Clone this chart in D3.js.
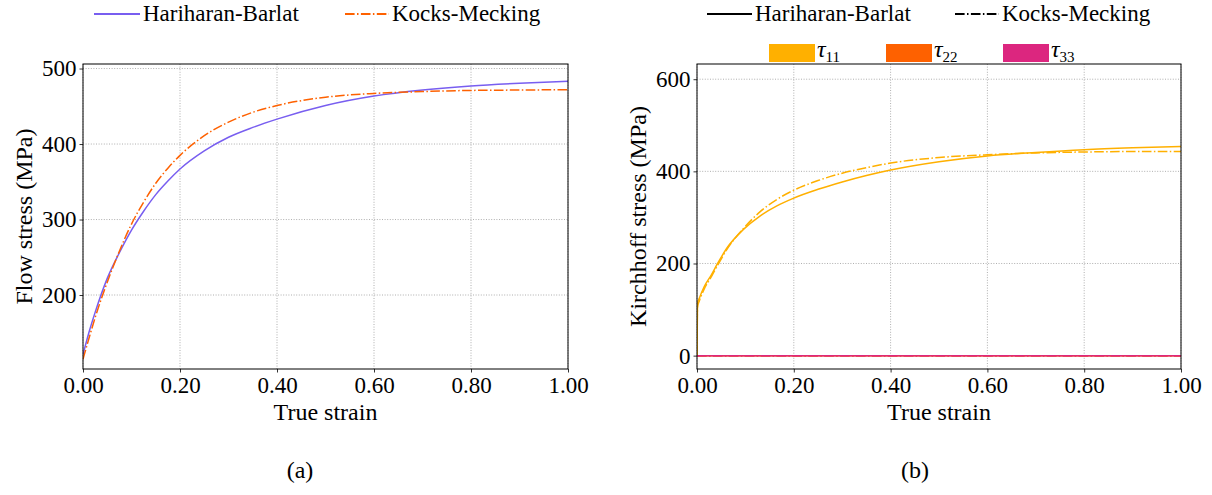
<!DOCTYPE html>
<html><head><meta charset="utf-8">
<script src="https://cdn.jsdelivr.net/npm/d3@7"></script>
<style>
body{margin:0;background:#fff;}
</style></head>
<body><svg id="c" width="1212" height="495"></svg>
<script>
// ---- Data ----
const strainA = [0, 0.0125, 0.025, 0.05, 0.075, 0.1, 0.125, 0.15, 0.175, 0.2, 0.25, 0.3, 0.35, 0.4, 0.5, 0.6, 0.7, 0.8, 0.9, 1.0];
const hbFlow  = [121, 151, 177, 222, 256, 286, 311, 333, 351, 367, 391, 409, 422, 433, 451, 463.5, 471.5, 477, 480.5, 483];
const kmFlow  = [115, 143, 170, 217, 258, 294, 323, 348, 368, 385, 411, 429, 442, 451, 462, 467, 469.5, 471, 471.5, 472];

const strainB = [0, 0.001, 0.005, 0.015, 0.03, 0.042, 0.0615, 0.096, 0.13, 0.165, 0.2, 0.25, 0.3, 0.35, 0.4, 0.5, 0.6, 0.7, 0.8, 0.9, 1.0];
const hbTau11 = [0, 112, 125, 150, 176, 199, 233, 274, 303, 325, 342, 361, 377, 391, 403, 421, 433.5, 441, 447, 451, 454];
const kmTau11 = [0, 105, 119, 145, 172, 195, 230, 276, 312, 339, 359, 380, 396, 408, 418, 430, 436, 440, 442, 443, 443];
const hbTau22 = strainB.map(() => 0);
const kmTau22 = strainB.map(() => 0);
const hbTau33 = strainB.map(() => 0);
const kmTau33 = strainB.map(() => 0);

const xTicks = [0, 0.2, 0.4, 0.6, 0.8, 1.0];
const yTicksA = [200, 300, 400, 500];
const yTicksB = [0, 200, 400, 600];

const C = {hb:"#785EF0", km:"#FE6100", t11:"#FFB000", t22:"#FE6100", t33:"#DC267F"};
const DASHDOT = "9.6,2.4,1.5,2.4";
const FF = "'Liberation Serif','DejaVu Serif','Times New Roman',Times,serif";

const svg = d3.select("#c");
const FS = 24;

function txt(sel){ return sel.attr("font-family", FF).attr("fill","#000"); }

function panel(cfg){
  const g = svg.append("g");
  const x = d3.scaleLinear().domain([0,1]).range([cfg.x0, cfg.x1]);
  const y = d3.scaleLinear().domain(cfg.ydom).range([cfg.y1, cfg.y0]);
  // grid
  g.append("g").selectAll("line").data(xTicks).join("line")
    .attr("x1", d=>x(d)).attr("x2", d=>x(d)).attr("y1", cfg.y0).attr("y2", cfg.y1)
    .attr("stroke","#9a9a9a").attr("stroke-width",0.8).attr("stroke-dasharray","1,1.6");
  g.append("g").selectAll("line").data(cfg.yTicks).join("line")
    .attr("y1", d=>y(d)).attr("y2", d=>y(d)).attr("x1", cfg.x0).attr("x2", cfg.x1)
    .attr("stroke","#9a9a9a").attr("stroke-width",0.8).attr("stroke-dasharray","1,1.6");
  // clip
  const cid = "clip"+cfg.id;
  svg.append("defs").append("clipPath").attr("id",cid).append("rect")
    .attr("x",cfg.x0).attr("y",cfg.y0).attr("width",cfg.x1-cfg.x0).attr("height",cfg.y1-cfg.y0);
  const lg = g.append("g").attr("clip-path",`url(#${cid})`);
  cfg.series.forEach(s=>{
    const line = d3.line().x((d,i)=>x(s.xs[i])).y(d=>y(d)).curve(d3.curveMonotoneX);
    lg.append("path").datum(s.ys).attr("d",line).attr("fill","none")
      .attr("stroke",s.color).attr("stroke-width",1.5)
      .attr("stroke-dasharray", s.dash ? DASHDOT : null);
  });
  // axes
  const xa = d3.axisBottom(x).tickValues(xTicks).tickFormat(d3.format(".2f")).tickSize(3.5).tickPadding(4);
  const ya = d3.axisLeft(y).tickValues(cfg.yTicks).tickFormat(d3.format("d")).tickSize(3.5).tickPadding(3);
  const gx = g.append("g").attr("transform",`translate(0,${cfg.y1})`).call(xa);
  const gy = g.append("g").attr("transform",`translate(${cfg.x0},0)`).call(ya);
  [gx,gy].forEach(a=>{
    a.attr("font-family", FF).attr("font-size", FS);
    a.select(".domain").remove();
    a.selectAll("line").attr("stroke","#000").attr("stroke-width",0.8);
    txt(a.selectAll("text")).attr("font-size",FS-1);
  });
  g.append("rect").attr("x",cfg.x0).attr("y",cfg.y0).attr("width",cfg.x1-cfg.x0).attr("height",cfg.y1-cfg.y0)
    .attr("fill","none").attr("stroke","#000").attr("stroke-width",1);
  // labels
  txt(g.append("text")).attr("x",(cfg.x0+cfg.x1)/2).attr("y",420).attr("text-anchor","middle")
    .attr("font-size",FS).text("True strain");
  txt(g.append("text")).attr("transform",`translate(${cfg.ylx},${(cfg.y0+cfg.y1)/2}) rotate(-90)`)
    .attr("text-anchor","middle").attr("font-size",FS).text(cfg.ylabel);
  txt(g.append("text")).attr("x",cfg.capx).attr("y",478).attr("text-anchor","middle")
    .attr("font-size",FS).text(cfg.cap);
  return {x,y};
}

panel({id:"a", x0:83, x1:568, y0:64, y1:369, ydom:[102,506], yTicks:yTicksA,
  ylabel:"Flow stress (MPa)", ylx:32, cap:"(a)", capx:300,
  series:[
    {xs:strainA, ys:hbFlow, color:C.hb},
    {xs:strainA, ys:kmFlow, color:C.km, dash:true}
  ]});

panel({id:"b", x0:697, x1:1181, y0:64, y1:369, ydom:[-29,633], yTicks:yTicksB,
  ylabel:"Kirchhoff stress (MPa)", ylx:646, cap:"(b)", capx:915,
  series:[
    {xs:strainB, ys:hbTau11, color:C.t11},
    {xs:strainB, ys:hbTau22, color:C.t22},
    {xs:strainB, ys:hbTau33, color:C.t33},
    {xs:strainB, ys:kmTau11, color:C.t11, dash:true},
    {xs:strainB, ys:kmTau22, color:C.t22, dash:true},
    {xs:strainB, ys:kmTau33, color:C.t33, dash:true}
  ]});

// legends
function lineEntry(x1,x2,y,color,dash,label){
  svg.append("line").attr("x1",x1).attr("x2",x2).attr("y1",y).attr("y2",y)
    .attr("stroke",color).attr("stroke-width",1.8).attr("stroke-dasharray",dash?DASHDOT:null);
  txt(svg.append("text")).attr("x",x2+3).attr("y",y+7).attr("font-size",FS-1).text(label);
}
lineEntry(94,140,14,C.hb,false,"Hariharan-Barlat");
lineEntry(345,389,14,C.km,true,"Kocks-Mecking");
lineEntry(707,752,14,"#000",false,"Hariharan-Barlat");
lineEntry(955,999,14,"#000",true,"Kocks-Mecking");

function patchEntry(x1,color,sub){
  svg.append("rect").attr("x",x1).attr("y",44).attr("width",46).attr("height",18).attr("fill",color);
  const t = txt(svg.append("text")).attr("x",x1+48).attr("y",57).attr("font-size",FS);
  t.append("tspan").attr("font-style","italic").text("τ");
  t.append("tspan").attr("font-size",15).attr("dy",5).text(sub);
}
patchEntry(769,C.t11,"11");
patchEntry(886,C.t22,"22");
patchEntry(1003,C.t33,"33");
</script></body></html>
